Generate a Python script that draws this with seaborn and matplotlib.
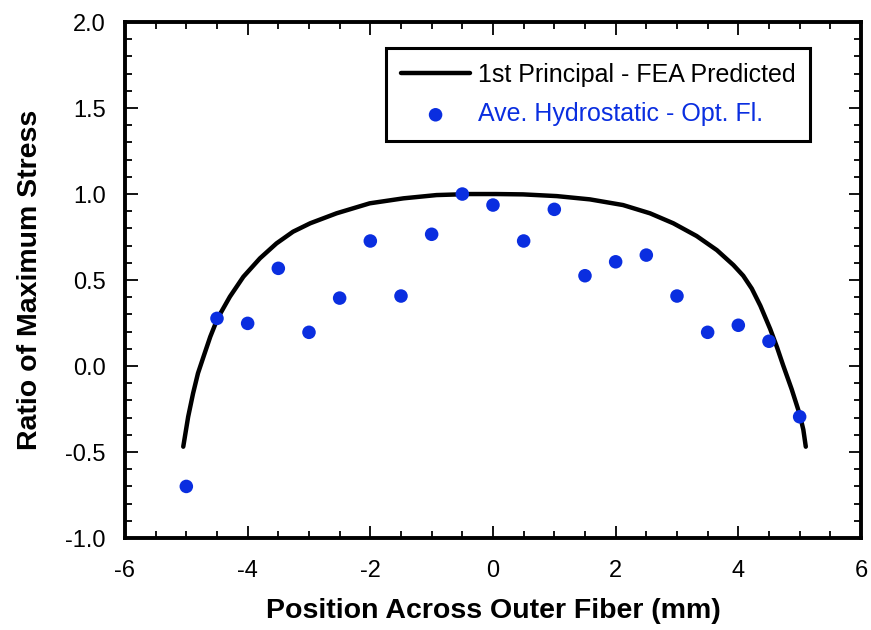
import matplotlib
matplotlib.use("Agg")
import matplotlib.pyplot as plt
import seaborn as sns
import numpy as np
import pandas as pd
from matplotlib.ticker import MultipleLocator, FormatStrFormatter

# FEA predicted curve
fea_x = [-5.05, -4.97, -4.89, -4.81, -4.72, -4.61, -4.49, -4.29, -4.07, -3.80, -3.53,
         -3.26, -2.98, -2.55, -2.01, -1.46, -0.92, -0.375, 0.05, 0.49, 1.04, 1.58,
         2.12, 2.56, 2.94, 3.32, 3.65, 3.92, 4.08, 4.22, 4.36, 4.52, 4.63, 4.73, 4.87,
         5.00, 5.06, 5.10]
fea_y = [-0.469, -0.295, -0.159, -0.042, 0.054, 0.170, 0.277, 0.403, 0.519, 0.626, 0.713,
         0.781, 0.830, 0.888, 0.946, 0.975, 0.994, 1.0, 1.0, 0.998, 0.988, 0.969,
         0.936, 0.888, 0.830, 0.756, 0.674, 0.587, 0.525, 0.450, 0.350, 0.215, 0.110, 0.005,
         -0.135, -0.280, -0.370, -0.469]

# Average hydrostatic - optical fiber measurements
opt_x = [-5.0, -4.5, -4.0, -3.5, -3.0, -2.5, -2.0, -1.5, -1.0, -0.5, 0.0,
         0.5, 1.0, 1.5, 2.0, 2.5, 3.0, 3.5, 4.0, 4.5, 5.0]
opt_y = [-0.70, 0.277, 0.248, 0.568, 0.196, 0.395, 0.727, 0.407, 0.766, 1.0, 0.936,
         0.727, 0.911, 0.525, 0.606, 0.645, 0.407, 0.196, 0.237, 0.144, -0.295]

line_label = "1st Principal - FEA Predicted"
pt_label = "Ave. Hydrostatic - Opt. Fl."
xlabel = "Position Across Outer Fiber (mm)"
ylabel = "Ratio of Maximum Stress"

sns.set_style("white")
plt.rcParams['font.family'] = ['Liberation Sans', 'DejaVu Sans']
plt.rcParams.update({'text.color': 'black', 'axes.labelcolor': 'black',
                     'xtick.color': 'black', 'ytick.color': 'black'})

fig = plt.figure(figsize=(8.71, 6.3), dpi=100)
ax = fig.add_axes([0.1435, 0.146, 0.8450, 0.819])

blue = "#0a2ee0"
df_line = pd.DataFrame({"x": fea_x, "y": fea_y})
df_pts = pd.DataFrame({"x": opt_x, "y": opt_y})
sns.lineplot(data=df_line, x="x", y="y", sort=False, color="black", linewidth=3.2,
             ax=ax, label=line_label, zorder=2)
sns.scatterplot(data=df_pts, x="x", y="y", color=blue, s=95, edgecolor="none",
                ax=ax, label=pt_label, zorder=3)

ax.set_xlim(-6, 6)
ax.set_ylim(-1.0, 2.0)
ax.xaxis.set_major_locator(MultipleLocator(2))
ax.xaxis.set_minor_locator(MultipleLocator(0.5))
ax.yaxis.set_major_locator(MultipleLocator(0.5))
ax.yaxis.set_minor_locator(MultipleLocator(0.1))
ax.yaxis.set_major_formatter(FormatStrFormatter('%.1f'))
ax.xaxis.set_major_formatter(FormatStrFormatter('%d'))
ax.tick_params(which='both', direction='in', top=True, right=True,
               bottom=True, left=True, width=1.3, color='black',
               labelcolor='black')
ax.tick_params(which='major', length=9, labelsize=17)
ax.tick_params(axis='x', which='major', pad=16)
ax.tick_params(axis='y', which='major', pad=14)
ax.tick_params(which='minor', length=5)
for s in ax.spines.values():
    s.set_linewidth(2.8)
    s.set_color('black')

ax.set_xlabel(xlabel, fontsize=20.5, fontweight='bold', labelpad=11, color='black')
ax.set_ylabel(ylabel, fontsize=20.5, fontweight='bold', labelpad=16, color='black')

leg = ax.legend(loc='upper right', bbox_to_anchor=(0.931, 0.950), fontsize=18,
                frameon=True, fancybox=False, edgecolor='black', framealpha=1,
                handlelength=2.76, borderpad=0.6, labelspacing=0.62,
                handletextpad=0.3, borderaxespad=0, markerscale=1.0)
leg.get_frame().set_linewidth(2.2)
leg.get_texts()[0].set_color('black')
leg.get_texts()[1].set_color(blue)

fig.savefig("out.png", dpi=100)
